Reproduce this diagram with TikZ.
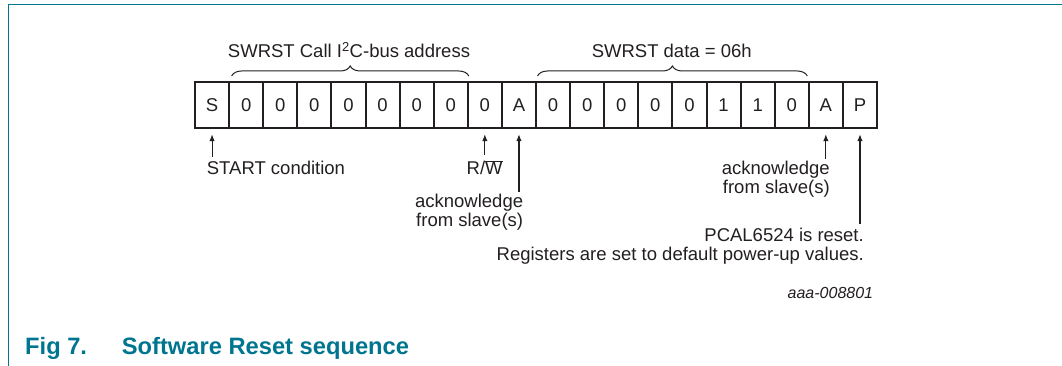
\documentclass[tikz,border=0pt]{standalone}
\usepackage{fontspec}
\setmainfont{Liberation Sans}
\usetikzlibrary{decorations.pathreplacing,arrows.meta,calc}
\definecolor{ink}{HTML}{231F20}
\definecolor{nxpblue}{RGB}{0,117,143}
\begin{document}
\begin{tikzpicture}[x=1pt,y=-1pt,
  every node/.style={text=ink, font=\fontsize{18.5}{19.5}\selectfont, inner sep=0pt},
  bitbox/.style={draw=ink, line width=2pt, minimum width=34.1pt, minimum height=46.4pt,
    text height=13.2pt, text depth=0pt, anchor=west},
  arr/.style={draw=ink, line width=1.1pt, -{Latex[length=7pt,width=5.5pt]}, shorten >=4.8pt},
  brc/.style={draw=ink, line width=1pt, decorate, decoration={brace, amplitude=10pt, aspect=0.5}},
  lbl/.style={align=right}
]
\useasboundingbox (0,0) rectangle (1062,366);
% frame
\draw[nxpblue, line width=1.3pt] (1062,4.7) -- (8.5,4.7) -- (8.5,366);
% bit boxes
\foreach \t [count=\i from 0] in {S,0,0,0,0,0,0,0,0,A,0,0,0,0,0,1,1,0,A,P}
  \node[bitbox] (b\i) at (194+34.1*\i,105.2) {\t};
% braces
\draw[brc] ($(b1.north west)+(3.5,-5)$) -- ($(b7.north east)+(0,-5)$);
\draw[brc] ($(b10.north west)+(2.5,-5)$) -- ($(b17.north east)+(-2.5,-5)$);
\node[anchor=base] (h1) at (349,57.5) {SWRST Call I\textsuperscript{2}C-bus address};
\node[anchor=base] (h2) at (671.7,57.5) {SWRST data = 06h};
% labels
\node[anchor=base west] (l0) at (206.7,175) {START condition};
\node[anchor=base] (l8) at (484.7,175) {R/$\overline{\mbox{W}}$};
\node[lbl, anchor=north east] (l9) at (523.3,193.5) {acknowledge\\from slave(s)};
\node[lbl, anchor=north east] (l18) at (830,160.8) {acknowledge\\from slave(s)};
\node[lbl, anchor=north east] (l19) at (864,227.4) {PCAL6524 is reset.\\Registers are set to default power-up values.};
\node[anchor=base east, font=\fontsize{16}{18}\selectfont\itshape] (code) at (873.3,298.3) {aaa-008801};
% arrows
\coordinate (t0) at ($(b0.south)+(0,27.6)$);
\coordinate (t8) at ($(b8.south)+(0,25.6)$);
\coordinate (t9) at ($(b9.south)+(0,62.6)$);
\coordinate (t18) at ($(b18.south)+(0,29.6)$);
\coordinate (t19) at ($(b19.south)+(0,94.6)$);
\draw[arr] (t0) -- (b0.south);
\draw[arr] (t8) -- (b8.south);
\draw[arr] (t9) -- (b9.south);
\draw[arr] (t18) -- (b18.south);
\draw[arr] (t19) -- (b19.south);
% caption
\node[anchor=base west, text=nxpblue, font=\fontsize{23.7}{26}\selectfont\bfseries] (cap) at (25,354)
  {\makebox[96.7pt][l]{Fig 7.}Software Reset sequence};
\end{tikzpicture}
\end{document}
